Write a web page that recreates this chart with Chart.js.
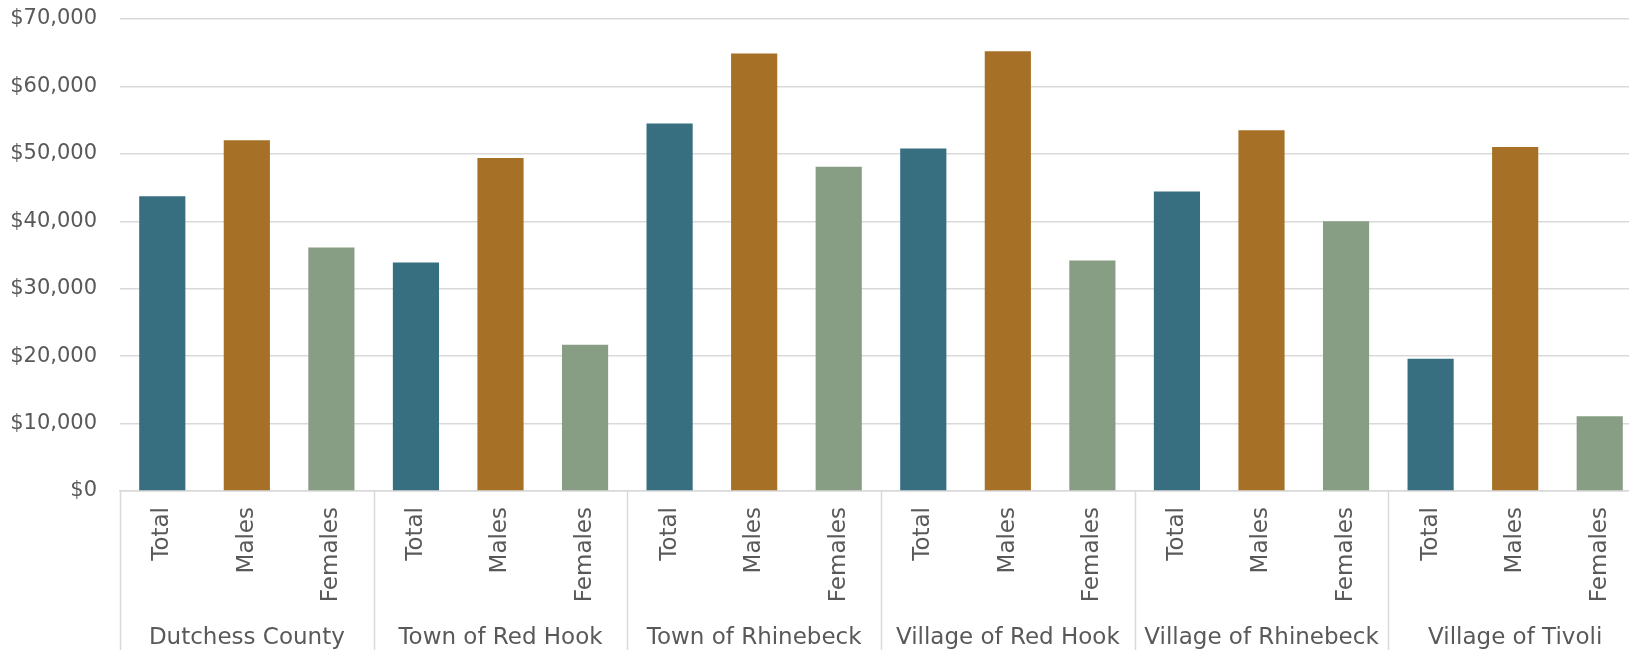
<!DOCTYPE html>
<html>
<head>
<meta charset="utf-8">
<title>Median earnings</title>
<script src="https://cdn.jsdelivr.net/npm/chart.js@4/dist/chart.umd.min.js"></script>
<style>
  html, body { margin: 0; padding: 0; background: #fff; overflow: hidden; }
  #wrap { position: relative; width: 1642px; height: 650px; }
</style>
</head>
<body>
<div id="wrap"><canvas id="chart-earnings"></canvas></div>
<script>
// places along the bottom, and the three bars in each
const groups = ['Dutchess County', 'Town of Red Hook', 'Town of Rhinebeck', 'Village of Red Hook', 'Village of Rhinebeck', 'Village of Tivoli'];
const series = ['Total', 'Males', 'Females'];

// values
const totalValues = [43700, 33900, 54500, 50800, 44400, 19600];
const maleValues = [52000, 49400, 64900, 65200, 53500, 51000];
const femaleValues = [36100, 21700, 48100, 34200, 40000, 11100];

const yTicks = [0, 10000, 20000, 30000, 40000, 50000, 60000, 70000];
const seriesColors = ['#376f80', '#a67027', '#889e84'];

const textColor = '#595959';
const lineColor = '#d9d9d9';
const fontFamily = '"DejaVu Sans", sans-serif';

// one bar per (group, series), in order
const barLabels = [];
const barValues = [];
const barColors = [];
groups.forEach(function(g, i) {
  const vals = [totalValues[i], maleValues[i], femaleValues[i]];
  series.forEach(function(s, j) {
    barLabels.push(s);
    barValues.push(vals[j]);
    barColors.push(seriesColors[j]);
  });
});

// vertical lines between the groups, running down through both label rows
const groupSeparators = {
  id: 'groupSeparators',
  afterDraw(chart) {
    const x = chart.scales.x;
    const ctx = chart.ctx;
    ctx.save();
    ctx.strokeStyle = lineColor;
    ctx.lineWidth = 1.5;
    for (let k = 0; k <= groups.length; k++) {
      const px = Math.round(x.getPixelForValue(k * series.length - 0.5)) + 0.5;
      ctx.beginPath();
      ctx.moveTo(px, chart.chartArea.bottom);
      ctx.lineTo(px, chart.height);
      ctx.stroke();
    }
    ctx.restore();
  }
};

document.addEventListener('DOMContentLoaded', function() {
  const el = document.getElementById('chart-earnings');
  new Chart(el, {
    type: 'bar',
    data: {
      labels: barLabels,
      datasets: [{
        data: barValues,
        backgroundColor: barColors,
        categoryPercentage: 1,
        barPercentage: 0.546
      }]
    },
    options: {
      responsive: true,
      maintainAspectRatio: false,
      animation: false,
      layout: { padding: { top: 19, left: 0, right: 0, bottom: 0 } },
      plugins: {
        legend: { display: false },
        tooltip: { enabled: false }
      },
      scales: {
        x: {
          type: 'category',
          position: 'bottom',
          weight: 0,
          offset: true,
          grid: { display: false, drawTicks: false },
          border: { display: true, color: lineColor, width: 1.5 },
          ticks: {
            color: textColor,
            font: { family: fontFamily, size: 23 },
            minRotation: 90,
            maxRotation: 90,
            autoSkip: false,
            padding: 16
          },
          afterFit(scale) {
            scale.height = 112;
            scale.paddingLeft = 0;
            scale.paddingRight = 0;
          }
        },
        x2: {
          type: 'category',
          position: 'bottom',
          weight: 1,
          labels: groups,
          offset: true,
          grid: { display: false, drawTicks: false },
          border: { display: false },
          ticks: {
            color: textColor,
            font: { family: fontFamily, size: 23 },
            maxRotation: 0,
            autoSkip: false,
            padding: 21
          },
          afterFit(scale) {
            scale.height = 47;
            scale.paddingLeft = 0;
            scale.paddingRight = 0;
          }
        },
        y: {
          min: yTicks[0],
          max: yTicks[yTicks.length - 1],
          afterBuildTicks(scale) {
            scale.ticks = yTicks.map(function(v) { return { value: v }; });
          },
          grid: { color: lineColor, lineWidth: 1.5, drawTicks: false },
          border: { display: false },
          ticks: {
            color: textColor,
            font: { family: fontFamily, size: 21 },
            padding: 23,
            callback: function(v) { return '$' + Number(v).toLocaleString('en-US'); }
          },
          afterFit(scale) {
            scale.width = 120;
            scale.paddingTop = 0;
            scale.paddingBottom = 0;
          }
        }
      }
    },
    plugins: [groupSeparators]
  });
});
</script>
</body>
</html>
